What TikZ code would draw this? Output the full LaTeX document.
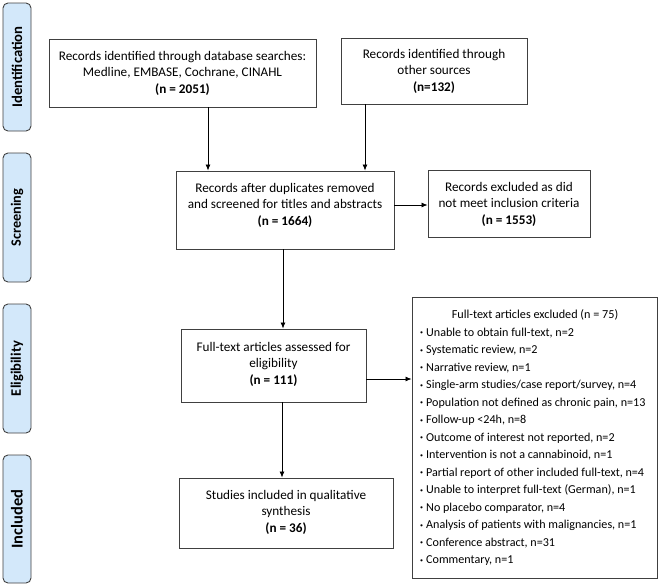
\documentclass[tikz,border=0pt]{standalone}
\usepackage{fontspec}
\setmainfont{Carlito}
\usetikzlibrary{arrows.meta}
\definecolor{sidefill}{HTML}{D3E8FA}
\definecolor{edge}{HTML}{404040}
\tikzset{
  box/.style={draw=edge, line width=0.9pt, rectangle, inner sep=0pt},
  txt/.style={align=center, font=\fontsize{13.2}{16.5}\selectfont, inner sep=0pt},
  ttl/.style={font=\fontsize{12.2}{14}\selectfont, inner sep=0pt},
  item/.style={anchor=west, font=\fontsize{12.1}{14}\selectfont, inner sep=0pt},
  side/.style={draw=edge, line width=0.9pt, fill=sidefill, rounded corners=5pt, minimum width=28pt, inner sep=0pt},
  sidetxt/.style={rotate=90, inner sep=0pt}
}
\tikzset{arr/.style={draw=black, line width=0.8pt, -{Latex[length=6pt,width=5pt]}}}
\newcommand{\bul}{\raisebox{0.25ex}{\fontsize{6}{6}\selectfont •}\hspace{3pt}}
\newcommand{\sidefont}[1]{\fontsize{#1}{#1}\selectfont\bfseries}
\begin{document}
\begin{tikzpicture}[x=1pt,y=-1pt]
\useasboundingbox (0,0) rectangle (660,587);
% side labels
\node[side, minimum height=128pt] (s1) at (17,67) {};
\node[sidetxt, font=\sidefont{14.7}] (s1t) at (s1.center) {Identification};
\node[side, minimum height=129pt] (s2) at (17,217.5) {};
\node[sidetxt, font=\sidefont{14.3}] (s2t) at (s2.center) {Screening};
\node[side, minimum height=129pt] (s3) at (17,368.5) {};
\node[sidetxt, font=\sidefont{14.5}] (s3t) at (s3.center) {Eligibility};
\node[side, minimum height=128pt] (s4) at (17,519) {};
\node[sidetxt, font=\sidefont{16.5}] (s4t) at (s4.center) {Included};
% boxes
\node[box, minimum width=267pt, minimum height=68pt] (b1) at (182.5,73) {};
\node[txt] (b1t) at (182.5,73) {Records identified through database searches:\\Medline, EMBASE, Cochrane, CINAHL\\\textbf{(n = 2051)}};
\node[box, minimum width=186pt, minimum height=66pt] (b2) at (434,71) {};
\node[txt] (b2t) at (434,71) {Records identified through\\other sources\\\textbf{(n=132)}};
\node[box, minimum width=218pt, minimum height=78pt] (b3) at (285,210) {};
\node[txt] (b3t) at (285,205) {Records after duplicates removed\\and screened for titles and abstracts\\\textbf{(n = 1664)}};
\node[box, minimum width=162pt, minimum height=67pt] (b4) at (509,203.5) {};
\node[txt] (b4t) at (509,204) {Records excluded as did\\not meet inclusion criteria\\\textbf{(n = 1553)}};
\node[box, minimum width=185pt, minimum height=73pt] (b5) at (273.5,365.5) {};
\node[txt] (b5t) at (273.5,364) {Full-text articles assessed for\\eligibility\\\textbf{(n = 111)}};
\node[box, minimum width=214pt, minimum height=70pt] (b6) at (286,513) {};
\node[txt] (b6t) at (286,512) {Studies included in qualitative\\synthesis\\\textbf{(n = 36)}};
\node[box, minimum width=245pt, minimum height=281pt] (b7) at (534.5,437.5) {};
\node[ttl] (b7t) at (535,315) {Full-text articles excluded (n = 75)};
\foreach \i/\t in {0/{Unable to obtain full-text, n=2},
  1/{Systematic review, n=2},
  2/{Narrative review, n=1},
  3/{Single-arm studies/case report/survey, n=4},
  4/{Population not defined as chronic pain, n=13},
  5/{Follow-up <24h, n=8},
  6/{Outcome of interest not reported, n=2},
  7/{Intervention is not a cannabinoid, n=1},
  8/{Partial report of other included full-text, n=4},
  9/{Unable to interpret full-text (German), n=1},
  10/{No placebo comparator, n=4},
  11/{Analysis of patients with malignancies, n=1},
  12/{Conference abstract, n=31},
  13/{Commentary, n=1}}{
  \node[item] (it\i) at (420,{333+17.5*\i}) {\bul\t};
}
% arrows
\draw[arr] ([xshift=25.5pt]b1.south) -- ([xshift=25.5pt]b1.south |- b3.north);
\draw[arr] ([xshift=-69pt]b2.south) -- ([xshift=-69pt]b2.south |- b3.north);
\draw[arr] (b3.east |- b3t.center) -- (b4.west |- b3t.center);
\draw[arr] ([xshift=-2pt]b3.south) -- ([xshift=-2pt]b3.south |- b5.north);
\draw[arr] ([yshift=-13.5pt]b5.east) -- ([yshift=-13.5pt]b5.east -| b7.west);
\draw[arr] ([xshift=8.5pt]b5.south) -- ([xshift=8.5pt]b5.south |- b6.north);
\end{tikzpicture}
\end{document}
